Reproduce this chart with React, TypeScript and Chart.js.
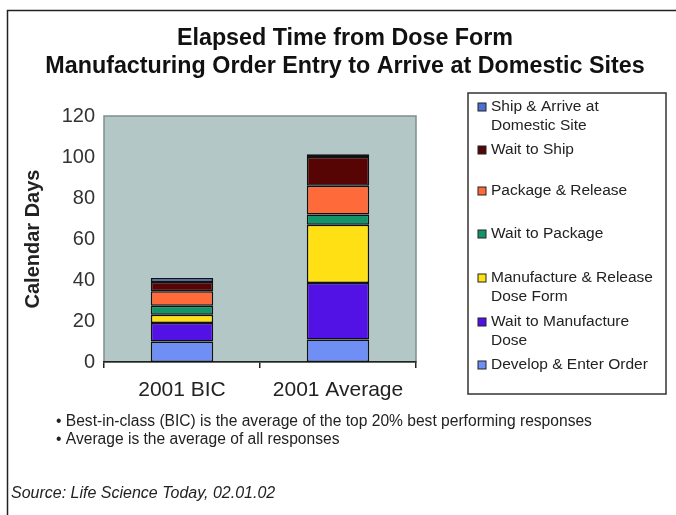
import React, { useEffect, useRef } from "react";
import { Chart, registerables } from "chart.js";

Chart.register(...registerables);

const CATEGORIES = ["2001 BIC", "2001 Average"];
const TITLE_LINES = ["Elapsed Time from Dose Form", "Manufacturing Order Entry to Arrive at Domestic Sites"];
const Y_TITLE = "Calendar Days";
const Y_MAX = 120;
const Y_STEP = 20;

// series listed bottom to top
const SERIES_LABELS = [
  ["Develop & Enter Order"],
  ["Wait to Manufacture", "Dose"],
  ["Manufacture & Release", "Dose Form"],
  ["Wait to Package"],
  ["Package & Release"],
  ["Wait to Ship"],
  ["Ship & Arrive at", "Domestic Site"],
];
const SERIES_COLORS = ["#6f8ff4", "#5212e6", "#ffe014", "#12946a", "#ff6a3a", "#560404", "#4a70d2"];
const DEVELOP = [10, 11];
const WAIT_MFG = [9, 27.5];
const MFG_RELEASE = [4, 28.5];
const WAIT_PKG = [4.5, 5];
const PKG_RELEASE = [7, 14];
const WAIT_SHIP = [4.5, 14];
const SHIP_ARRIVE = [2, 1.3];
const SERIES_VALUES = [DEVELOP, WAIT_MFG, MFG_RELEASE, WAIT_PKG, PKG_RELEASE, WAIT_SHIP, SHIP_ARRIVE];

const NOTES = [
  "\u2022 Best-in-class (BIC) is the average of the top 20% best performing responses",
  "\u2022 Average is the average of all responses",
];
const SOURCE = "Source: Life Science Today, 02.01.02";

const FONT = '"Liberation Sans", Arial, Helvetica, sans-serif';

const decorPlugin = {
  id: "decor",
  beforeDraw(chart: any) {
    const { ctx, chartArea: a } = chart;
    ctx.save();
    ctx.fillStyle = "#fff";
    ctx.fillRect(0, 0, chart.width, chart.height);
    // frame
    ctx.strokeStyle = "#222";
    ctx.lineWidth = 1.5;
    ctx.beginPath();
    ctx.moveTo(7.5, chart.height);
    ctx.lineTo(7.5, 10.5);
    ctx.lineTo(chart.width, 10.5);
    ctx.stroke();
    // plot background
    ctx.fillStyle = "#b3c8c6";
    ctx.fillRect(a.left, a.top, a.right - a.left, a.bottom - a.top);
    ctx.strokeStyle = "#7f8e8e";
    ctx.lineWidth = 1.5;
    ctx.strokeRect(a.left, a.top, a.right - a.left, a.bottom - a.top);
    ctx.restore();
  },
  afterDraw(chart: any) {
    const { ctx } = chart;
    ctx.save();
    // title
    ctx.fillStyle = "#111";
    ctx.font = `bold 23.3px ${FONT}`;
    ctx.textAlign = "center";
    ctx.textBaseline = "middle";
    ctx.fillText(TITLE_LINES[0], 345, 39);
    ctx.fillText(TITLE_LINES[1], 345, 67);
    // legend box
    ctx.strokeStyle = "#333";
    ctx.lineWidth = 1.5;
    ctx.strokeRect(468, 93, 198, 301);
    const rows = [107, 150, 191, 234, 278, 322, 365];
    const order = [6, 5, 4, 3, 2, 1, 0];
    ctx.font = `15.5px ${FONT}`;
    ctx.textAlign = "left";
    order.forEach((si, i) => {
      const y = rows[i];
      ctx.fillStyle = SERIES_COLORS[si];
      ctx.fillRect(478, y - 4, 8, 8);
      ctx.strokeStyle = "#222";
      ctx.lineWidth = 1;
      ctx.strokeRect(478, y - 4, 8, 8);
      ctx.fillStyle = "#222";
      SERIES_LABELS[si].forEach((line, li) => {
        ctx.fillText(line, 491, y + li * 19);
      });
    });
    // notes
    ctx.fillStyle = "#222";
    ctx.font = `15.6px ${FONT}`;
    ctx.fillText(NOTES[0], 56, 422);
    ctx.fillText(NOTES[1], 56, 440);
    ctx.font = `italic 16px ${FONT}`;
    ctx.fillText(SOURCE, 11, 494);
    ctx.restore();
  },
};

export default function App() {
  const ref = useRef<HTMLCanvasElement | null>(null);
  useEffect(() => {
    if (!ref.current) return;
    const chart = new Chart(ref.current, {
      type: "bar",
      data: {
        labels: CATEGORIES,
        datasets: SERIES_VALUES.map((vals, i) => ({
          label: SERIES_LABELS[i].join(" "),
          data: vals,
          backgroundColor: SERIES_COLORS[i],
          borderColor: "#111",
          borderWidth: 1.5,
          borderSkipped: false,
          barPercentage: 0.4,
          categoryPercentage: 1,
        })),
      },
      options: {
        responsive: false,
        animation: false,
        layout: { padding: { left: 0, right: 260, top: 116, bottom: 113 } },
        plugins: {
          legend: { display: false },
          title: { display: false },
          tooltip: { enabled: false },
        },
        scales: {
          x: {
            stacked: true,
            grid: { display: true, drawOnChartArea: false, drawTicks: true, tickLength: 6, color: "#222", lineWidth: 1.5, offset: true },
            border: { display: true, color: "#222", width: 1.5 },
            ticks: { color: "#222", font: { family: FONT, size: 21 }, padding: 10 },
            afterFit: (s: any) => {
              s.height = 40;
              s.paddingLeft = 0;
              s.paddingRight = 0;
            },
          },
          y: {
            stacked: true,
            min: 0,
            max: Y_MAX,
            grid: { display: false, drawTicks: false },
            border: { display: false },
            ticks: { stepSize: Y_STEP, color: "#333", font: { family: FONT, size: 20 }, padding: 9 },
            title: { display: true, text: Y_TITLE, color: "#222", font: { family: FONT, size: 20, weight: "bold" }, padding: { top: 21, bottom: 0 } },
            afterFit: (s: any) => {
              s.width = 104;
              s.paddingTop = 0;
              s.paddingBottom = 0;
            },
          },
        },
      },
      plugins: [decorPlugin],
    });
    return () => chart.destroy();
  }, []);
  return (
    <div style={{ position: "absolute", left: 0, top: 0, width: 676, height: 515 }}>
      <canvas ref={ref} width={676} height={515} />
    </div>
  );
}
